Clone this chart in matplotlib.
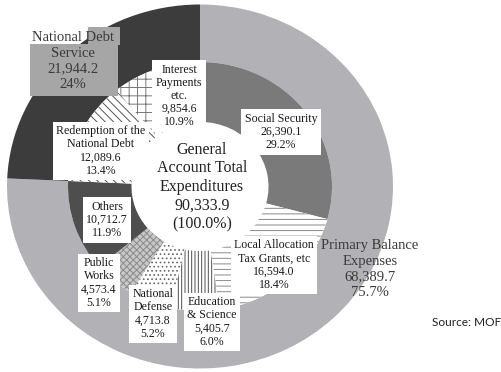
import matplotlib.pyplot as plt
from matplotlib.patches import Rectangle

# general account budget, 100 million yen
outer_names = ['Primary Balance\nExpenses', 'National Debt\nService']
outer_values = [68389.7, 21944.2]
outer_shares = [75.7, 24]

inner_names = ['Social Security', 'Local Allocation\nTax Grants, etc', 'Education\n& Science',
               'National\nDefense', 'Public\nWorks', 'Others',
               'Redemption of the\nNational Debt', 'Interest\nPayments\netc.']
inner_values = [26390.1, 16594.0, 5405.7, 4713.8, 4573.4, 10712.7, 12089.6, 9854.6]
inner_shares = [29.2, 18.4, 6.0, 5.2, 5.1, 11.9, 13.4, 10.9]

total = 90333.9

W, H = 502, 372
cx, cy = 200, 186.5
rx, ry = 193, 182

fig = plt.figure(figsize=(W / 100, H / 100), dpi=100)
ax = fig.add_axes([0, 0, 1, 1])
plt.rcParams['hatch.linewidth'] = 0.7

outer_style = [('#b2b2b6', None, '#b2b2b6'), ('#3c3c3c', None, '#3c3c3c')]
inner_style = [('#7a7a7a', None, '#7a7a7a'),
               ('white', '---', '#8a8a8a'),
               ('white', '|||||', '#505050'),
               ('white', '....', '#666666'),
               ('#c8c8c8', 'xxxxx', '#8a8a8a'),
               ('#4e4e4e', None, '#4e4e4e'),
               ('white', '\\\\\\\\', '#555555'),
               ('white', '++', '#777777')]

r_mid, r_hole = 0.684, 0.355
wo, _ = ax.pie(outer_values, radius=1.0, startangle=90, counterclock=False,
               wedgeprops=dict(width=1.0 - r_mid, linewidth=0))
wi, _ = ax.pie(inner_values, radius=r_mid, startangle=90, counterclock=False,
               wedgeprops=dict(width=r_mid - r_hole, linewidth=0))
for w, (fc, hatch, ec) in zip(wo, outer_style):
    w.set_facecolor(fc)
    w.set_edgecolor(ec)
for w, (fc, hatch, ec) in zip(wi, inner_style):
    w.set_facecolor(fc)
    w.set_edgecolor(ec)
    if hatch:
        w.set_hatch(hatch)

ax.set_aspect('auto')
ax.set_xlim(-cx / rx, (W - cx) / rx)
ax.set_ylim(-(H - cy) / ry, cy / ry)
ax.axis('off')


def fx(x, y):
    return x / W, 1 - y / H


serif = 'Liberation Serif'
box = dict(facecolor='white', edgecolor='none', pad=2.5)

inner_pos = [(281, 132), (274, 265), (212, 322), (153, 314),
             (99, 283), (107, 220), (101, 151), (179, 96)]
for name, val, sh, (x, y) in zip(inner_names, inner_values, inner_shares, inner_pos):
    fig.text(*fx(x, y), f'{name}\n{val:,.1f}\n{sh:.1f}%', family=serif, fontsize=8.6,
             color='#1a1a1a', ha='center', va='center', multialignment='center',
             linespacing=1.12, bbox=box)

# centre of the doughnut
fig.text(*fx(202, 187), f'General\nAccount Total\nExpenditures\n{total:,.1f}\n(100.0%)',
         family=serif, fontsize=11.5, color='#222222', ha='center', va='center',
         multialignment='center', linespacing=1.22)

# outer ring labels
fig.text(*fx(370, 269), f'{outer_names[0]}\n{outer_values[0]:,.1f}\n{outer_shares[0]:g}%',
         family=serif, fontsize=10.5, color='#3a3a3a', ha='center', va='center',
         multialignment='center', linespacing=1.25)

# grey backing behind the debt service label
for (x0, y0, x1, y1) in [(30, 44, 118, 96), (88, 27, 120, 45)]:
    fig.patches.append(Rectangle((x0 / W, 1 - y1 / H), (x1 - x0) / W, (y1 - y0) / H,
                                 transform=fig.transFigure, facecolor='#a6a6a6',
                                 edgecolor='none', zorder=1))
fig.text(*fx(73, 61), f'{outer_names[1]}\n{outer_values[1]:,.1f}\n{outer_shares[1]:g}%',
         family=serif, fontsize=10.5, color='#3a3a3a', ha='center', va='center',
         multialignment='center', linespacing=1.25)

fig.text(*fx(501, 322), 'Source: MOF', family='Lato', fontsize=8.6, color='#222222',
         ha='right', va='center')

fig.savefig('out.png', dpi=100)
